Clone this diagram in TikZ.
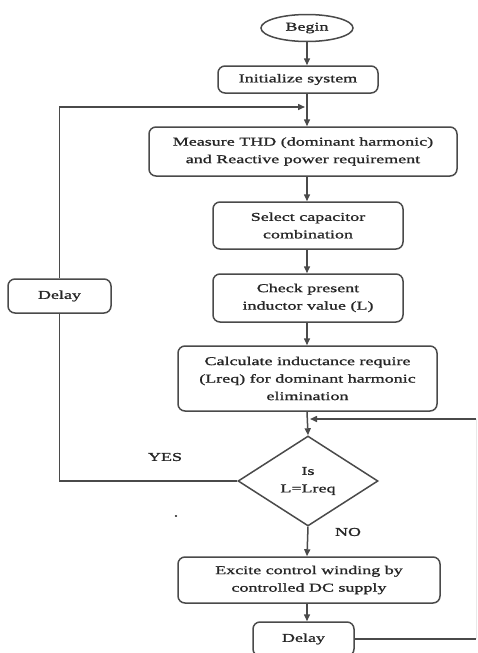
\documentclass[tikz,border=0pt]{standalone}
\usepackage{fontspec}
\setmainfont{Liberation Serif}[FakeStretch=1.5,FakeBold=1.2]
\usetikzlibrary{shapes.geometric,arrows.meta}
\definecolor{ln}{HTML}{4A4A4A}
\definecolor{tx}{HTML}{262626}
\tikzset{
  box/.style={draw=ln, line width=1.5pt, rounded corners=7pt, align=center, inner sep=0pt, text=tx, font=\fontsize{12}{17.5}\selectfont},
  lbl/.style={text=tx, font=\fontsize{12}{17.5}\selectfont, inner sep=0pt},
  ln/.style={draw=ln, line width=1.5pt},
  arr/.style={ln, -{Triangle[length=7pt,width=6pt]}},
}
\begin{document}
\begin{tikzpicture}[x=1pt,y=-1pt]
\useasboundingbox (0,0) rectangle (477,653);
\clip (0,0) rectangle (477,653);
\fill[white] (0,0) rectangle (477,653);
\node[box, ellipse, rounded corners=0pt, minimum width=92pt, minimum height=27pt] (begin) at (307,28) {Begin};
\node[box, minimum width=160pt, minimum height=27pt] (init) at (298,79.5) {Initialize system};
\node[box, minimum width=308pt, minimum height=49pt] (meas) at (303,151.5) {Measure THD (dominant harmonic)\\and Reactive power requirement};
\node[box, minimum width=190pt, minimum height=47pt] (sel) at (308,225.5) {Select capacitor\\combination};
\node[box, minimum width=190pt, minimum height=48pt] (chk) at (308,298) {Check present\\inductor value (L)};
\node[box, minimum width=103pt, minimum height=34pt] (delayL) at (59.5,296) {Delay};
\node[box, minimum width=259pt, minimum height=65pt] (calc) at (307.5,378.5) {Calculate inductance require\\(Lreq) for dominant harmonic\\elimination};
\node[box, diamond, rounded corners=0pt, minimum width=140pt, minimum height=90pt] (dec) at (308,481) {Is\\L=Lreq};
\node[box, minimum width=262pt, minimum height=46pt] (exc) at (309,580) {Excite control winding by\\controlled DC supply};
\node[box, minimum width=101pt, minimum height=34pt] (delayB) at (303.5,639) {Delay};
\node[lbl] (yes) at (165,457) {YES};
\node[lbl] (no) at (348,532) {NO};
\node[lbl] (dot) at (176,516) {.};
\coordinate (m) at (307,0);
\coordinate (j1) at (307,107);
\coordinate (j2) at (307,419);
\coordinate (re) at (476,419);
\draw[arr] (begin.south) -- (m |- init.north);
\draw[arr] (m |- init.south) -- (m |- meas.north);
\draw[arr] (delayL.north) |- ([xshift=-2pt]j1);
\draw[arr] (m |- meas.south) -- (m |- sel.north);
\draw[arr] (m |- sel.south) -- (m |- chk.north);
\draw[arr] (m |- chk.south) -- (m |- calc.north);
\draw[arr] (m |- calc.south) -- (dec.north);
\draw[ln] (dec.west) -| (delayL.south);
\draw[arr] (dec.south) -- (m |- exc.north);
\draw[arr] (m |- exc.south) -- (m |- delayB.north);
\draw[ln] (delayB.east) -- (delayB.east -| re);
\draw[draw=ln!12, line width=1pt] (delayB.east -| re) -- (re);
\draw[arr] (re) -- ([xshift=3pt]j2);
\end{tikzpicture}
\end{document}
